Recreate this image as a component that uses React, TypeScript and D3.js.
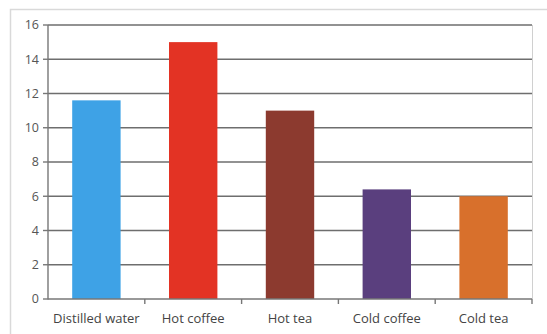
import React from "react";
import * as d3 from "d3";

const categories = ["Distilled water", "Hot coffee", "Hot tea", "Cold coffee", "Cold tea"];
const values = [11.6, 15, 11, 6.4, 6];
const colors = ["#3EA2E6", "#E33324", "#8C3A2F", "#5A3F7E", "#D8702C"];
const yTicks = [0, 2, 4, 6, 8, 10, 12, 14, 16];

export default function App() {
  const W = 547, H = 334;
  const left = 48, right = 532, top = 25, bottom = 299;
  const x = d3.scaleBand<string>().domain(categories).range([left, right]).paddingInner(0.5).paddingOuter(0.25);
  const xb = d3.scaleBand<string>().domain(categories).range([left, right]);
  const y = d3.scaleLinear().domain([0, 16]).range([bottom, top]);
  const font = "Open Sans, Liberation Sans, sans-serif";
  return (
    <svg width={W} height={H} style={{ position: "absolute", left: 0, top: 0, background: "#fff" }}>
      <rect x={10.5} y={9.5} width={W} height={H} fill="#fff" stroke="#d9d9d9" strokeWidth={1.5} />
      <line x1={right + 0.5} x2={right + 0.5} y1={top} y2={bottom} stroke="#d0d0d0" />
      {yTicks.filter(t => t > 0).map(t => (
        <line key={t} x1={left} x2={right} y1={y(t)} y2={y(t)} stroke="#6e6e6e" strokeWidth={1.4} />
      ))}
      {values.map((v, i) => (
        <rect key={categories[i]} x={x(categories[i])} y={y(v)} width={x.bandwidth()} height={y(0) - y(v)} fill={colors[i]} />
      ))}
      <line x1={left} x2={left} y1={top} y2={bottom + 0.5} stroke="#777" strokeWidth={1.4} />
      <line x1={left} x2={right} y1={bottom} y2={bottom} stroke="#777" strokeWidth={1.4} />
      {yTicks.map(t => (
        <g key={t}>
          <line x1={left - 5} x2={left} y1={y(t)} y2={y(t)} stroke="#777" strokeWidth={1.4} />
          <text x={39} y={y(t)} dy="0.35em" textAnchor="end" fontSize={12.5} fill="#555" fontFamily={font}>{t}</text>
        </g>
      ))}
      {categories.map((c, i) => (
        <line key={"tk" + c} x1={(xb(c) as number) + xb.bandwidth()} x2={(xb(c) as number) + xb.bandwidth()} y1={bottom} y2={bottom + 5} stroke="#777" strokeWidth={1.4} />
      ))}
      {categories.map(c => (
        <text key={"lb" + c} x={(xb(c) as number) + xb.bandwidth() / 2} y={318} dy="0.35em" textAnchor="middle" fontSize={13} fill="#444" fontFamily={font}>{c}</text>
      ))}
    </svg>
  );
}
